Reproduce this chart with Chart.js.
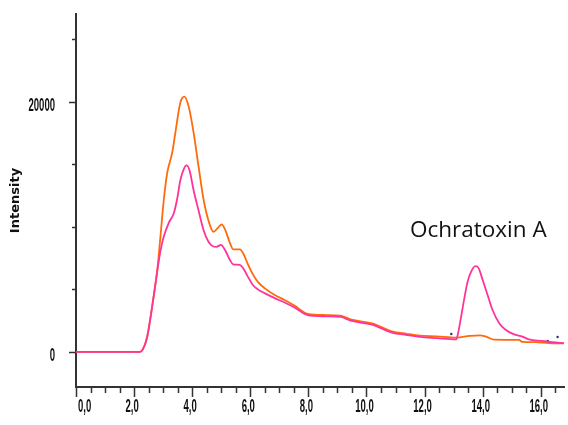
<!DOCTYPE html>
<html>
<head>
<meta charset="utf-8">
<script src="https://cdn.jsdelivr.net/npm/chart.js@4.4.1/dist/chart.umd.min.js"></script>
<style>
    html, body { margin: 0; padding: 0; background: #fff; }
    #wrap { width: 568px; height: 425px; position: relative; }
</style>
</head>
<body>
<div id="wrap"><canvas id="chrom"></canvas></div>
<script>
// retention time (min) and intensity
const orangeTime = [0, 2.2, 2.3, 2.45, 2.62, 2.8, 2.91, 3.02, 3.14, 3.31, 3.42, 3.59, 3.73, 3.88, 4.05, 4.22, 4.39, 4.56, 4.73, 4.88,
    5.01, 5.13, 5.3, 5.41, 5.64, 5.75, 5.92, 6.09, 6.26, 6.49, 6.84, 7.18, 7.52, 7.97, 8.6, 9.11, 9.45, 9.91, 10.25, 10.59,
    10.87, 11.38, 11.84, 12.41, 13.09, 13.55, 13.89, 14.11, 14.4, 15.25, 15.37, 15.82, 16.28, 16.8];
const orangeIntensity = [0, 0, 200, 1200, 3600, 6600, 9300, 12100, 14300, 15900, 17500, 19900, 20400, 19600, 17500, 14800, 12200, 10500, 9600, 9900,
    10200, 9800, 8700, 8200, 8200, 7900, 7000, 6200, 5600, 5100, 4550, 4150, 3700, 3050, 2950, 2900, 2600, 2400, 2250, 1900,
    1650, 1450, 1300, 1250, 1150, 1280, 1330, 1230, 980, 960, 800, 780, 700, 680];

const pinkTime = [0, 2.2, 2.3, 2.45, 2.62, 2.8, 2.91, 3.02, 3.19, 3.37, 3.48, 3.59, 3.71, 3.8, 3.91, 4.05, 4.22, 4.39, 4.56, 4.71,
    4.84, 4.99, 5.13, 5.3, 5.41, 5.64, 5.75, 5.92, 6.09, 6.26, 6.49, 6.84, 7.18, 7.52, 7.97, 8.6, 9.11, 9.45, 9.91, 10.25,
    10.59, 10.87, 11.38, 11.84, 12.41, 13.09, 13.14, 13.25, 13.37, 13.48, 13.6, 13.75, 13.86, 14.0, 14.17, 14.34, 14.57, 14.8, 15.08, 15.37,
    15.59, 16.05, 16.39, 16.8];
const pinkIntensity = [0, 0, 200, 1200, 3600, 6500, 8100, 9200, 10300, 11100, 12200, 13700, 14600, 14900, 14500, 12900, 11300, 9750, 8800, 8450,
    8400, 8550, 8150, 7350, 7000, 6950, 6700, 6000, 5350, 5000, 4700, 4300, 3950, 3550, 2950, 2850, 2800, 2500, 2300, 2150,
    1800, 1550, 1350, 1200, 1100, 1000, 1350, 2700, 4300, 5600, 6400, 6850, 6700, 5750, 4550, 3350, 2300, 1750, 1400, 1230,
    1000, 880, 780, 690];

// stray integration marks
const dotTime = [12.92, 16.24, 16.58];
const dotIntensity = [1440, 880, 1200];

const xTicks = [];
for (let t = 0; t <= 16.5; t += 0.5) xTicks.push(t);
const xLabelled = [0, 2, 4, 6, 8, 10, 12, 14, 16];
const yTicks = [0, 5000, 10000, 15000, 20000, 25000];
const yLabelled = [0, 20000];

const toPoints = (xs, ys) => xs.map((x, i) => ({ x: x, y: ys[i] }));

// narrow bold label, like the instrument software prints it
function narrowText(ctx, text, x, y, align) {
    ctx.save();
    ctx.font = 'bold 18px "Liberation Sans", Arial, sans-serif';
    const w = ctx.measureText(text).width * 0.53;
    let left = x;
    if (align === 'center') left = x - w / 2;
    if (align === 'right') left = x - w;
    ctx.translate(left, y);
    ctx.scale(0.53, 1);
    ctx.textAlign = 'left';
    ctx.textBaseline = 'middle';
    ctx.fillText(text, 0, 0);
    ctx.restore();
}

// tick marks and labels drawn by hand so labelled ticks can be longer
const tickMarks = {
    id: 'tickMarks',
    afterDraw(chart) {
        const ctx = chart.ctx;
        const xs = chart.scales.x, ys = chart.scales.y;
        ctx.save();
        ctx.strokeStyle = '#333';
        ctx.lineWidth = 1.5;
        ctx.beginPath();
        xTicks.forEach(v => {
            const px = Math.round(xs.getPixelForValue(v)) + 0.5;
            const len = xLabelled.includes(v) ? 10 : 6;
            ctx.moveTo(px, xs.top);
            ctx.lineTo(px, xs.top + len);
        });
        yTicks.forEach(v => {
            const py = Math.round(ys.getPixelForValue(v)) + 0.5;
            const len = yLabelled.includes(v) ? 7 : 4;
            ctx.moveTo(ys.right, py);
            ctx.lineTo(ys.right - len, py);
        });
        ctx.stroke();

        ctx.fillStyle = '#111';
        xLabelled.forEach((v, i) => {
            const px = xs.getPixelForValue(v);
            const txt = v.toFixed(1).replace('.', ',');
            if (i === 0) narrowText(ctx, txt, px + 2, xs.top + 20, 'left');
            else narrowText(ctx, txt, px - 2, xs.top + 20, 'center');
        });
        yLabelled.forEach(v => {
            const py = ys.getPixelForValue(v);
            narrowText(ctx, String(v), ys.right - 21, py + 4, 'right');
        });

        ctx.font = '22.5px "Open Sans", sans-serif';
        ctx.textBaseline = 'alphabetic';
        ctx.fillText('Ochratoxin A', 410, 237);
        ctx.restore();
    }
};

const lineStyle = { borderWidth: 1.8, pointRadius: 0, cubicInterpolationMode: 'monotone', fill: false };

new Chart(document.getElementById('chrom'), {
    type: 'line',
    data: {
        datasets: [
            { ...lineStyle, label: 'pink', data: toPoints(pinkTime, pinkIntensity), borderColor: '#ff3399' },
            { ...lineStyle, label: 'orange', data: toPoints(orangeTime, orangeIntensity), borderColor: '#ff6a0a' },
            { type: 'scatter', label: 'marks', data: toPoints(dotTime, dotIntensity), pointRadius: 1.2, pointBackgroundColor: '#1f3a6a', pointBorderWidth: 0 }
        ]
    },
    options: {
        responsive: true,
        maintainAspectRatio: false,
        animation: false,
        layout: { padding: { top: 14, right: 0, left: 0, bottom: 0 } },
        plugins: { legend: { display: false }, tooltip: { enabled: false } },
        scales: {
            x: {
                type: 'linear',
                min: 0,
                max: 16.8,
                afterBuildTicks: s => { s.ticks = xTicks.map(v => ({ value: v })); },
                afterFit: s => { s.height = 38; },
                border: { display: true, color: '#333', width: 2 },
                grid: { display: false, drawTicks: false },
                ticks: { display: false }
            },
            y: {
                min: -2800,
                max: 27000,
                afterBuildTicks: s => { s.ticks = yTicks.map(v => ({ value: v })); },
                afterFit: s => { s.width = 76; },
                border: { display: true, color: '#333', width: 2 },
                grid: { display: false, drawTicks: false },
                ticks: { display: false },
                title: {
                    display: true,
                    text: 'Intensity',
                    color: '#111',
                    padding: { top: 8, bottom: 0 },
                    font: { family: '"DejaVu Sans", sans-serif', size: 13, weight: 'bold' }
                }
            }
        }
    },
    plugins: [tickMarks]
});
</script>
</body>
</html>
